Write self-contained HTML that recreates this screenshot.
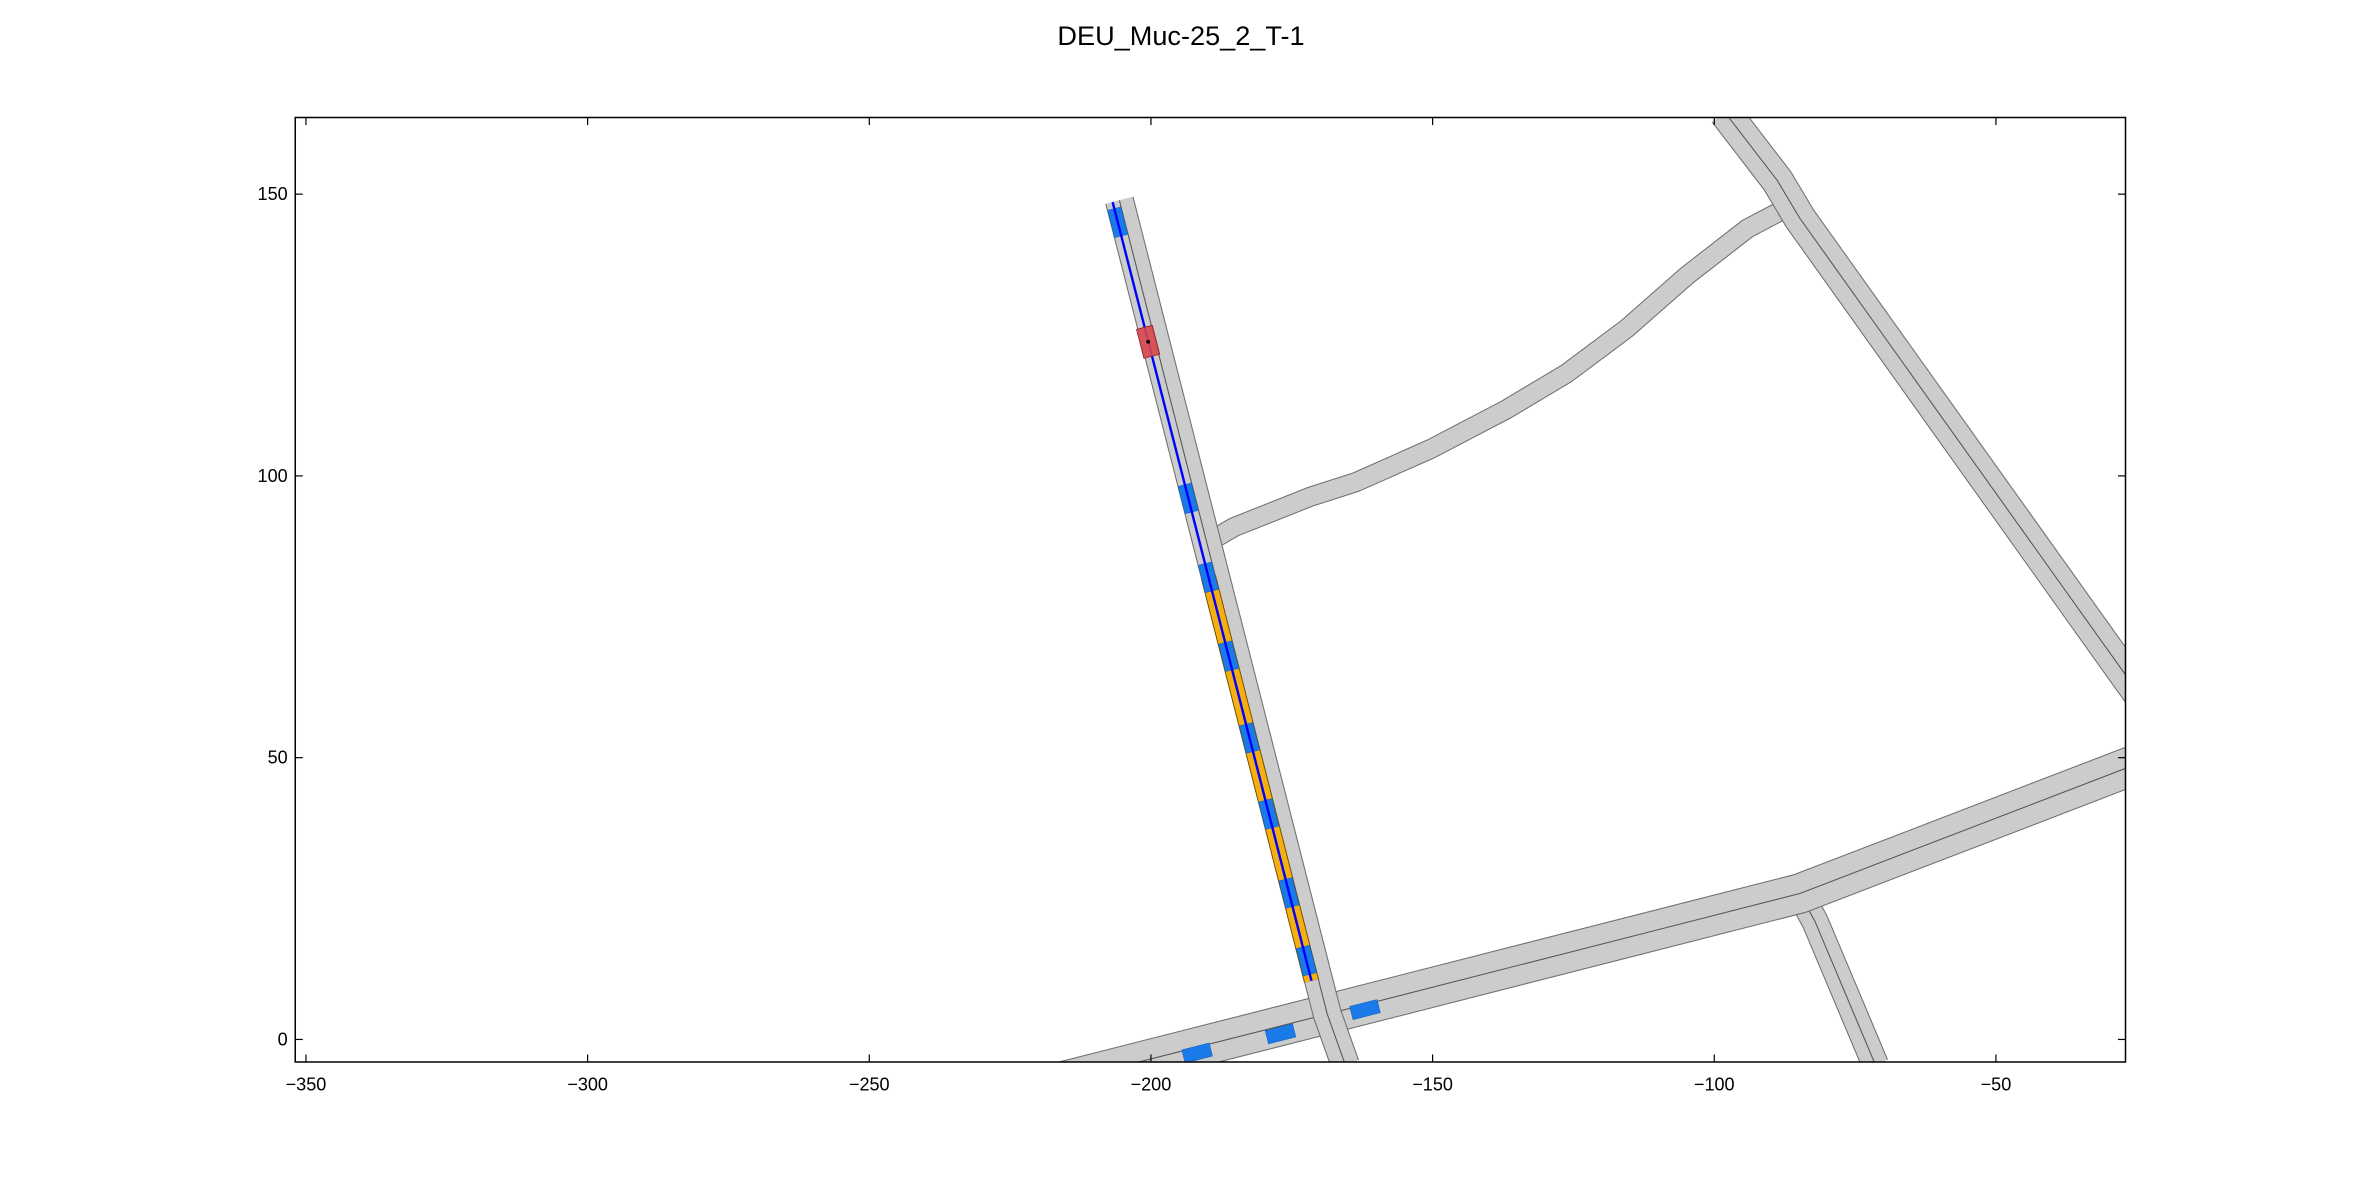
<!DOCTYPE html>
<html><head><meta charset="utf-8"><style>html,body{margin:0;padding:0;background:#fff}svg{display:block}</style></head>
<body>
<svg id="chart" width="2362" height="1181" viewBox="0 0 1568 784" preserveAspectRatio="none" xmlns="http://www.w3.org/2000/svg" font-family="Liberation Sans, DejaVu Sans, sans-serif">
<rect width="1568" height="784" fill="#fff"/>
<text x="784" y="30" text-anchor="middle" font-size="18">DEU_Muc-25_2_T-1</text>
<defs><clipPath id="clip"><rect x="196" y="78" width="1215" height="627"/></clipPath></defs>
<g id="plot" clip-path="url(#clip)"></g>
<rect x="196" y="78" width="1215" height="627" fill="none" stroke="#000" stroke-width="1"/>
<g id="axes"></g>
</svg>
<script>
const xTicks=[-350,-300,-250,-200,-150,-100,-50];
const yTicks=[0,50,100,150];
const roadMain=[[-205.6,148.9],[-168.7,4.5],[-165.5,-4.5]];
const roadCurve=[[-188.5,89],[-185.3,90.9],[-171.7,96.3],[-163.6,98.9],[-150.3,104.8],[-136.9,111.8],[-126.2,118.2],[-115.5,126.2],[-104.8,135.6],[-94.1,143.9],[-86.5,147.9]];
const roadDiag=[[-98.1,164.5],[-88.8,152.4],[-84.8,145.7],[-27,64.7],[-20,55]];
const roadLower=[[-217.1,-7.8],[-168.7,4.5],[-84.8,25.9],[-27,48.1],[-20,50.8]];
const roadSide=[[-84.8,25.9],[-82.1,20.9],[-71.4,-4.5]];
const trajBlue=[[-206.8,148.6],[-189.8,82.1],[-171.5,10.4]];
const trajOrange=[[-189.8,82.1],[-171.5,10.4]];
const vehX=[-205.9,-193.4,-189.8,-186.2,-182.5,-179.1,-175.5,-172.4,-191.8,-177,-162];
const vehY=[145,96,82,68,53.5,40,26,14,-2.4,1,5.3];
const vehAng=[75.7,75.7,75.7,75.7,75.7,75.7,75.7,75.7,-14.3,-14.3,-14.3];
const egoX=[-200.5],egoY=[123.8];

const X0=196,X1=1411,Y0=78,Y1=705,xmin=-351.9,xmax=-27,ymin=-4,ymax=163.6;
const sx=v=>X0+(v-xmin)/(xmax-xmin)*(X1-X0);
const sy=v=>Y1-(v-ymin)/(ymax-ymin)*(Y1-Y0);
const k=(X1-X0)/(xmax-xmin);
const NS='http://www.w3.org/2000/svg';
const plot=document.getElementById('plot'),axes=document.getElementById('axes');
function mk(tag,at,parent){const e=document.createElementNS(NS,tag);for(const a in at)e.setAttribute(a,at[a]);parent.appendChild(e);return e;}
function pts(a){return a.map(p=>sx(p[0])+','+sy(p[1])).join(' ');}
function road(a,w,name,center){
  let e=mk('polyline',{points:pts(a),fill:'none',stroke:'#6f6f6f','stroke-width':w*k+1.4,'stroke-linejoin':'round'},plot);
  
  
  e=mk('polyline',{points:pts(a),fill:'none',stroke:'#cccccc','stroke-width':w*k,'stroke-linejoin':'round'},plot);
  
  
  if(center){e=mk('polyline',{points:pts(a),fill:'none',stroke:'#555','stroke-width':0.7,'stroke-linejoin':'round'},plot);
  
  }
}
road(roadCurve,3.2,'road-curve',false);
road(roadDiag,5.5,'road-diagonal',true);
road(roadSide,4.5,'road-side',true);
road(roadLower,6.8,'road-lower',true);
road(roadMain,4.8,'road-main',true);
let e=mk('polyline',{points:pts(trajOrange),fill:'none',stroke:'#6a4a00','stroke-width':2.4*k+1.2},plot);


e=mk('polyline',{points:pts(trajOrange),fill:'none',stroke:'#f5b010','stroke-width':2.4*k},plot);


for(let i=0;i<vehX.length;i++){
  const cx=sx(vehX[i]),cy=sy(vehY[i]),L=5*k,W=2.4*k;
  const r=mk('rect',{x:cx-L/2,y:cy-W/2,width:L,height:W,fill:'#1a7be8',stroke:'#1560c0','stroke-width':0.4,transform:`rotate(${vehAng[i]} ${cx} ${cy})`},plot);
  
  
}
e=mk('polyline',{points:pts(trajBlue),fill:'none',stroke:'#0000ff','stroke-width':1.6},plot);


for(let i=0;i<egoX.length;i++){
  const cx=sx(egoX[i]),cy=sy(egoY[i]),L=5.3*k,W=2.9*k;
  const r=mk('rect',{x:cx-L/2,y:cy-W/2,width:L,height:W,fill:'#d9474f',stroke:'#8b1a22','stroke-width':0.5,'fill-opacity':0.9,transform:`rotate(75.7 ${cx} ${cy})`},plot);
  
  
  const d=mk('circle',{cx:cx,cy:cy,r:1.3,fill:'#000'},plot);
  
  
}
xTicks.forEach(v=>{const x=sx(v);
  let t=mk('line',{x1:x,x2:x,y1:Y1,y2:Y1-5,stroke:'#000','stroke-width':0.8},axes);
  
  
  t=mk('line',{x1:x,x2:x,y1:Y0,y2:Y0+5,stroke:'#000','stroke-width':0.8},axes);
  
  
  const l=mk('text',{x:x,y:Y1+19,'text-anchor':'middle','font-size':12},axes);
  l.textContent=(v<0?'\u2212'+(-v):v);
  
  
});
yTicks.forEach(v=>{const y=sy(v);
  let t=mk('line',{x1:X0,x2:X0+5,y1:y,y2:y,stroke:'#000','stroke-width':0.8},axes);
  
  
  t=mk('line',{x1:X1,x2:X1-5,y1:y,y2:y,stroke:'#000','stroke-width':0.8},axes);
  
  
  const l=mk('text',{x:X0-5,y:y+4,'text-anchor':'end','font-size':12},axes);
  l.textContent=v;
  
  
});
</script>
</body></html>
